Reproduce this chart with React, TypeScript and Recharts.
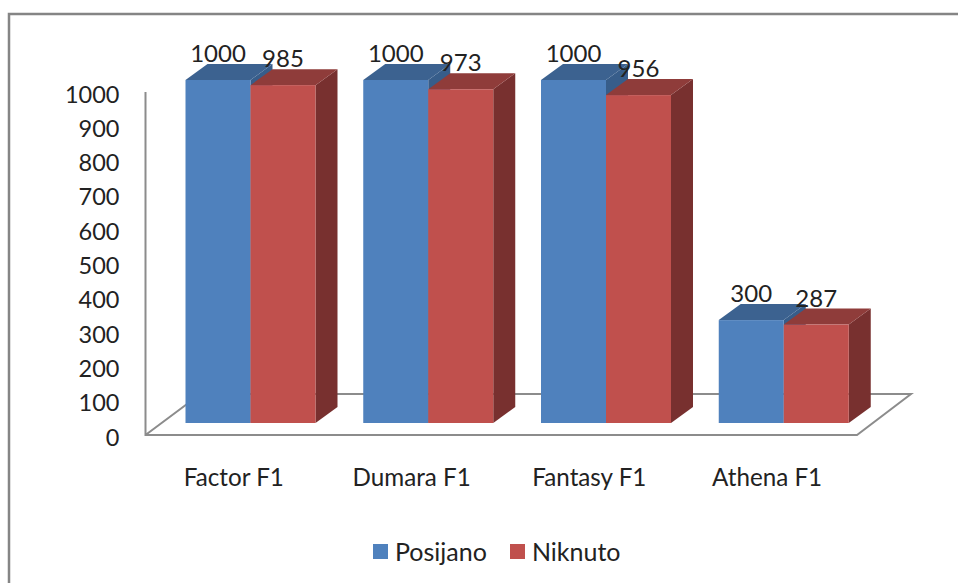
import { Bar, BarChart, LabelList, Legend, XAxis, YAxis, usePlotArea } from 'recharts';

const categories = ['Factor F1', 'Dumara F1', 'Fantasy F1', 'Athena F1'];
const posijano = [1000, 1000, 1000, 300];
const niknuto = [985, 973, 956, 287];
const yTicks = [0, 100, 200, 300, 400, 500, 600, 700, 800, 900, 1000];

const tableData = categories.map((name, i) => ({ name, posijano: posijano[i], niknuto: niknuto[i] }));

const FONT = 'Lato, "Open Sans", sans-serif';
const TEXT = '#222';
const LINE = '#8c8c8c';
const DEPTH_X = 22;
const DEPTH_Y = 16;

const shades: Record<string, { top: string; side: string }> = {
	'#4f81bd': { top: '#3c6290', side: '#375d8a' },
	'#c0504d': { top: '#8f3c3a', side: '#78302f' },
};

function Box3D({ x, y, width, height, fill }: any) {
	const s = shades[fill];
	const r = x + width;
	const b = y + height;
	return (
		<g>
			<polygon points={`${r},${y} ${r + DEPTH_X},${y - DEPTH_Y} ${r + DEPTH_X},${b - DEPTH_Y} ${r},${b}`} fill={s.side} />
			<polygon points={`${x},${y} ${x + DEPTH_X},${y - DEPTH_Y} ${r + DEPTH_X},${y - DEPTH_Y} ${r},${y}`} fill={s.top} />
			<rect x={x} y={y} width={width} height={height} fill={fill} />
		</g>
	);
}

function ValueLabel({ x, y, width, value }: any) {
	return (
		<text x={x + width / 2} y={y - 18} textAnchor="middle" fontFamily={FONT} fontSize={24} fill={TEXT}>
			{value}
		</text>
	);
}

function YTick({ x, y, payload }: any) {
	return (
		<text x={x} y={y + 22.5} textAnchor="end" fontFamily={FONT} fontSize={23.5} fill={TEXT}>
			{payload.value}
		</text>
	);
}

function XTick({ x, payload }: any) {
	return (
		<text x={x - 16.5} y={486} textAnchor="middle" fontFamily={FONT} fontSize={24.2} fill={TEXT}>
			{payload.value}
		</text>
	);
}

function Backdrop() {
	const plot = usePlotArea();
	if (!plot) {
		return null;
	}
	const bottom = plot.y + plot.height;
	const left = plot.x - 16;
	const front = bottom + 12;
	const back = bottom - 29;
	return (
		<g fill="none" stroke={LINE}>
			<path d="M9 583 V14 H958" strokeWidth={2.5} stroke="#858585" />
			<path d={`M${left} 92 V${front} H857 L911 ${back} H${left + 55} L${left} ${front}`} strokeWidth={2} />
		</g>
	);
}

function LegendBox() {
	const items = [
		{ label: 'Posijano', color: '#4f81bd', marginLeft: 0 },
		{ label: 'Niknuto', color: '#c0504d', marginLeft: 23 },
	];
	return (
		<div style={{ display: 'flex', alignItems: 'center', height: 30, fontFamily: FONT, fontSize: 25, color: TEXT }}>
			{items.map((item) => (
				<span key={item.label} style={{ display: 'flex', alignItems: 'center', marginLeft: item.marginLeft }}>
					<span style={{ width: 15, height: 15, background: item.color, marginRight: 7 }} />
					{item.label}
				</span>
			))}
		</div>
	);
}

export default function App() {
	return (
		<div style={{ position: 'absolute', left: 0, top: 0, width: 958, height: 583, background: '#fff' }}>
			<BarChart
				width={958}
				height={583}
				data={tableData}
				barGap={0}
				barCategoryGap={24}
				margin={{ top: 80, right: 85.5, bottom: 70, left: 61.5 }}
			>
				<Backdrop />
				<XAxis dataKey="name" height={60} axisLine={false} tickLine={false} tick={<XTick />} interval={0} />
				<YAxis
					width={100}
					domain={[0, 1000]}
					ticks={yTicks}
					interval={0}
					axisLine={false}
					tickLine={false}
					tickMargin={36}
					tick={<YTick />}
				/>
				<Legend
					content={<LegendBox />}
					wrapperStyle={{ position: 'absolute', left: 373, bottom: 17, width: 300, height: 30 }}
				/>
				<Bar dataKey="posijano" fill="#4f81bd" shape={<Box3D />} isAnimationActive={false}>
					<LabelList dataKey="posijano" content={<ValueLabel />} />
				</Bar>
				<Bar dataKey="niknuto" fill="#c0504d" shape={<Box3D />} isAnimationActive={false}>
					<LabelList dataKey="niknuto" content={<ValueLabel />} />
				</Bar>
			</BarChart>
		</div>
	);
}
